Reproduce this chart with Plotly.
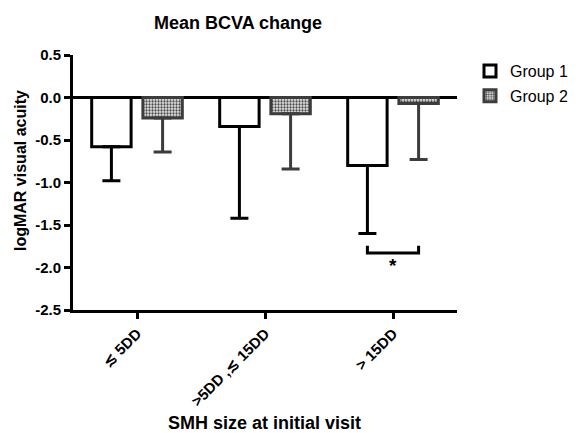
import plotly.graph_objects as go

categories = ["≲ 5DD", ">5DD ,≲ 15DD", "> 15DD"]
group1_mean = [-0.58, -0.34, -0.80]
group1_err = [0.40, 1.08, 0.80]
group2_mean = [-0.24, -0.19, -0.07]
group2_err = [0.40, 0.65, 0.66]
ytick_vals = [0.5, 0.0, -0.5, -1.0, -1.5, -2.0, -2.5]
ytick_text = ["0.5", "0.0", "-0.5", "-1.0", "-1.5", "-2.0", "-2.5"]
sig_category = 2
sig_bracket_y = -1.83
sig_bracket_top = -1.745
sig_star_y = -1.98

FONT = "Arial, Liberation Sans, sans-serif"
idx = list(range(len(categories)))

# page body has an 8px default margin; the figure is sized to fit inside the window
W, H = 571, 425
OFF = 8

fig = go.Figure()
fig.add_trace(go.Bar(
    x=idx, y=group1_mean, name="Group 1", legendgroup="g1",
    marker=dict(color="white", line=dict(color="black", width=3)),
    error_y=dict(type="data", symmetric=False, array=[0] * 3, arrayminus=group1_err,
                 color="black", thickness=3, width=9),
))
fig.add_trace(go.Bar(
    x=idx, y=group2_mean, name="Group 2", legendgroup="g2",
    marker=dict(color="#999999", line=dict(color="#3c3c3c", width=3),
                pattern=dict(shape=".", fgcolor="#4a4a4a", bgcolor="#e6e6e6", size=3, solidity=0.45)),
    error_y=dict(type="data", symmetric=False, array=[0] * 3, arrayminus=group2_err,
                 color="#3c3c3c", thickness=3, width=9),
))

# significance bracket
half = 0.2
xl, xr = sig_category - half, sig_category + half
fig.add_shape(type="path", xref="x", yref="y",
              path=f"M {xl},{sig_bracket_top} L {xl},{sig_bracket_y} L {xr},{sig_bracket_y} L {xr},{sig_bracket_top}",
              line=dict(color="black", width=3))
fig.add_annotation(x=sig_category, y=sig_star_y, xref="x", yref="y", text="<b>*</b>",
                   showarrow=False, font=dict(size=19, color="black", family=FONT))

# axis titles (paper coords relative to plot area 384x255)
fig.add_annotation(x=(20 - 73) / 384, y=(310 - 171) / 255, xref="paper", yref="paper",
                   text="<b>logMAR visual acuity</b>",
                   textangle=-90, showarrow=False, xanchor="center", yanchor="middle",
                   font=dict(size=16, color="black", family=FONT))
fig.add_annotation(x=(264.5 - 73) / 384, y=(310 - 423) / 255, xref="paper", yref="paper",
                   text="<b>SMH size at initial visit</b>",
                   showarrow=False, xanchor="center", yanchor="middle",
                   font=dict(size=18, color="black", family=FONT))

fig.update_layout(
    template="none",
    width=W, height=H,
    margin=dict(l=73 - OFF, r=122, t=55 - OFF, b=123, autoexpand=False),
    paper_bgcolor="white", plot_bgcolor="white",
    font=dict(family=FONT, color="black"),
    title=dict(text="<b>Mean BCVA change</b>", x=(238 - OFF) / W, xref="container", xanchor="center",
               y=1 - (23 - OFF) / H, yref="container", yanchor="middle",
               font=dict(size=18, color="black", family=FONT)),
    barmode="group", bargap=0.2, bargroupgap=0.23,
    showlegend=True,
    legend=dict(x=(470 - OFF) / W, y=1 - (54 - OFF) / H, xref="container", yref="container",
                xanchor="left", yanchor="top", tracegroupgap=1,
                font=dict(size=16, color="black", family=FONT), bgcolor="rgba(0,0,0,0)"),
)
fig.update_xaxes(
    range=[-0.5, 2.5], tickmode="array", tickvals=idx, ticktext=categories, tickangle=-45,
    showline=True, linecolor="black", linewidth=3, ticks="outside", ticklen=6, tickwidth=3,
    tickcolor="black", showgrid=False, zeroline=False, automargin=False,
    tickfont=dict(size=15, color="black", family=FONT, weight="bold"),
)
fig.update_yaxes(
    range=[-2.5, 0.5], tickmode="array", tickvals=ytick_vals, ticktext=ytick_text,
    showline=True, linecolor="black", linewidth=3, ticks="outside", ticklen=6, tickwidth=3,
    tickcolor="black", showgrid=False, zeroline=True, zerolinecolor="black", zerolinewidth=2.5,
    automargin=False,
    tickfont=dict(size=15, color="black", family=FONT, weight="bold"),
)

fig.write_html("out.html")
